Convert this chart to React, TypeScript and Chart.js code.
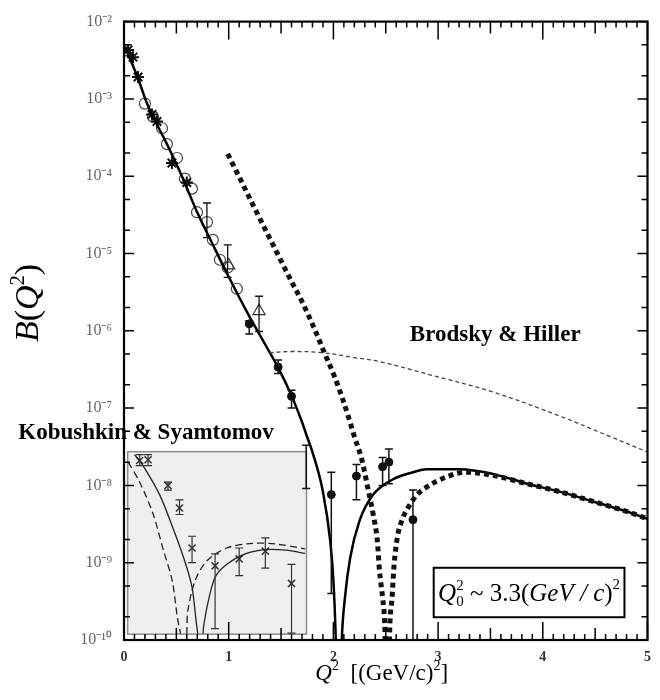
import React, { useEffect, useRef } from "react";
import { Chart, registerables } from "chart.js";

Chart.register(...registerables);

// ---------- axis ticks ----------
const X_TICKS = [0, 1, 2, 3, 4, 5];
const Y_EXPONENTS = [-2, -3, -4, -5, -6, -7, -8, -9, -10];

// ---------- main theory curve (solid) ----------
const solidQ2 = [0.01, 0.13, 0.22, 0.41, 0.55, 0.70, 0.85, 1.0, 1.2, 1.35, 1.47, 1.6, 1.7, 1.75, 1.8, 1.9, 1.97, 2.0, 2.02, 2.04, 2.06, 2.08, 2.11, 2.16, 2.25, 2.38, 2.57, 2.76, 2.89, 3.21, 3.52, 3.85, 4.16, 4.48, 4.8, 5.0];
const solidB = [4.68e-3, 1.91e-3, 8.7e-4, 2.6e-4, 1.02e-4, 3.39e-5, 1.29e-5, 5.0e-6, 1.51e-6, 6.6e-7, 3.39e-7, 1.45e-7, 6.6e-8, 4.2e-8, 2.7e-8, 8.3e-9, 1.9e-9, 5.9e-10, 1.35e-10, 1e-11, 1e-11, 1e-10, 3.5e-10, 1.15e-9, 3.5e-9, 7.6e-9, 1.2e-8, 1.48e-8, 1.62e-8, 1.62e-8, 1.41e-8, 1.05e-8, 8.3e-9, 6.2e-9, 4.6e-9, 3.7e-9];

// ---------- thick square-dotted curve ----------
const squaresQ2 = [0.99, 1.1, 1.25, 1.44, 1.58, 1.71, 1.84, 1.9, 2.01, 2.09, 2.16, 2.2, 2.27, 2.33, 2.38, 2.42, 2.44, 2.47, 2.49, 2.505, 2.525, 2.54, 2.56, 2.58, 2.61, 2.66, 2.73, 2.8, 2.89, 3.08, 3.27, 3.52, 3.85, 4.16, 4.48, 4.8, 5.0];
const squaresB = [1.95e-4, 9.8e-5, 3.8e-5, 1.17e-5, 4.9e-6, 2.24e-6, 9.1e-7, 5.75e-7, 2.57e-7, 1.29e-7, 6.5e-8, 4.3e-8, 2.19e-8, 9.1e-9, 4.2e-9, 1.9e-9, 7.9e-10, 3.5e-10, 1.66e-10, 3.2e-11, 3.2e-11, 1.66e-10, 3.5e-10, 9.5e-10, 2.1e-9, 3.7e-9, 5.6e-9, 7.6e-9, 9.5e-9, 1.29e-8, 1.48e-8, 1.35e-8, 1.05e-8, 8.3e-9, 6.2e-9, 4.6e-9, 3.7e-9];

// ---------- Brodsky & Hiller (thin dashed) ----------
const brodskyQ2 = [1.39, 1.6, 1.9, 2.2, 2.44, 2.9, 3.52, 4.16, 4.64, 5.0];
const brodskyB = [5.2e-7, 5.4e-7, 5.2e-7, 4.5e-7, 4.0e-7, 2.75e-7, 1.62e-7, 7.9e-8, 4.3e-8, 2.7e-8];

// ---------- inset curves (Kobushkin & Syamtomov) ----------
const insetDashQ2 = [0.04, 0.15, 0.28, 0.37, 0.46, 0.51, 0.54, 0.57, 0.6, 0.61, 0.68, 0.79, 0.98, 1.23, 1.46, 1.73];
const insetDashB = [2.0e-8, 1.1e-8, 4.2e-9, 1.55e-9, 5.9e-10, 1.95e-10, 1.2e-10, null, 1.2e-10, 2.4e-10, 5.9e-10, 1.05e-9, 1.55e-9, 1.78e-9, 1.74e-9, 1.51e-9];
const insetSolidQ2 = [0.1, 0.18, 0.34, 0.47, 0.58, 0.65, 0.69, 0.705, 0.73, 0.755, 0.76, 0.8, 0.87, 0.98, 1.17, 1.36, 1.55, 1.73];
const insetSolidB = [2.5e-8, 1.82e-8, 7.6e-9, 2.75e-9, 1.05e-9, 4.8e-10, 1.7e-10, 1.2e-10, null, 1.2e-10, 1.48e-10, 2.95e-10, 6.5e-10, 9.5e-10, 1.32e-9, 1.48e-9, 1.45e-9, 1.32e-9];

// ---------- data points ----------
const starQ2 = [0.038, 0.086, 0.134, 0.267, 0.315, 0.458, 0.6];
const starB = [4.3e-3, 3.47e-3, 1.92e-3, 6.3e-4, 5.1e-4, 1.48e-4, 8.3e-5];
const starLo = [3.6e-3, null, null, null, null, null, null];
const starHi = [5.0e-3, null, null, null, null, null, null];

const circleQ2 = [0.2, 0.277, 0.363, 0.41, 0.506, 0.582, 0.649, 0.697, 0.792, 0.849, 0.916, 0.99, 1.078];
const circleB = [8.7e-4, 5.9e-4, 4.17e-4, 2.6e-4, 1.72e-4, 9.3e-5, 6.9e-5, 3.42e-5, 2.55e-5, 1.5e-5, 8.3e-6, 6.6e-6, 3.5e-6];
const circleLo = [null, null, null, null, null, null, null, null, 1.6e-5, null, null, 4.9e-6, null];
const circleHi = [null, null, null, null, null, null, null, null, 4.5e-5, null, null, 1.29e-5, null];

const triangleQ2 = [1.0, 1.29];
const triangleB = [7.0e-6, 1.8e-6];
const triangleLo = [null, 9.8e-7];
const triangleHi = [null, 2.8e-6];

const filledQ2 = [1.196, 1.472, 1.6, 1.98, 2.22, 2.47, 2.53, 2.76];
const filledB = [1.23e-6, 3.4e-7, 1.42e-7, 7.6e-9, 1.32e-8, 1.74e-8, 2.0e-8, 3.6e-9];
const filledLo = [9.1e-7, 2.8e-7, 1.0e-7, 4.0e-10, 6.5e-9, 1.0e-8, 1.05e-8, 1e-10];
const filledHi = [1.35e-6, 4.2e-7, 1.7e-7, 1.48e-8, 1.86e-8, 2.3e-8, 2.95e-8, 8.7e-9];

const barOnlyQ2 = [1.74];
const barOnlyB = [1.7e-8];
const barOnlyLo = [9.1e-9];
const barOnlyHi = [3.3e-8];

const insetPtsQ2 = [0.15, 0.23, 0.42, 0.53, 0.65, 0.87, 1.1, 1.35, 1.6];
const insetPtsB = [2.1e-8, 2.15e-8, 1.0e-8, 5.1e-9, 1.55e-9, 9.1e-10, 1.12e-9, 1.41e-9, 5.4e-10];
const insetPtsLo = [1.8e-8, 1.8e-8, 8.7e-9, 4.2e-9, 1.0e-9, 1.4e-10, 6.8e-10, 8.5e-10, 1.23e-10];
const insetPtsHi = [2.5e-8, 2.5e-8, 1.1e-8, 6.5e-9, 2.2e-9, 1.3e-9, 1.55e-9, 2.1e-9, 9.5e-10];

// ---------- annotation anchors (data units) ----------
const INSET_Q2 = [0.035, 1.743];
const INSET_B = [1.19e-10, 2.73e-8];
const NOTE_Q2 = [2.958, 4.78];
const NOTE_B = [1.97e-10, 8.6e-10];
const BRODSKY_LABEL = { q2: 2.73, b: 8.9e-7, text: "Brodsky & Hiller" };
const KOBUSHKIN_LABEL = { q2: -1.01, b: 4.7e-8, text: "Kobushkin & Syamtomov" };

const SERIF = "'Liberation Serif', 'Times New Roman', serif";
const SUP: Record<string, string> = { "-": "\u207B", "0": "\u2070", "1": "\u00B9", "2": "\u00B2", "3": "\u00B3", "4": "\u2074", "5": "\u2075", "6": "\u2076", "7": "\u2077", "8": "\u2078", "9": "\u2079" };

const pts = (xs: number[], ys: (number | null)[]) => xs.map((x, i) => ({ x, y: ys[i] }));

type Part = { t: string; font: string; dy?: number; noAdvance?: boolean };

function partsWidth(ctx: CanvasRenderingContext2D, parts: Part[]) {
  let w = 0;
  for (const p of parts) {
    ctx.font = p.font;
    if (!p.noAdvance) w += ctx.measureText(p.t).width;
  }
  return w;
}
function drawParts(ctx: CanvasRenderingContext2D, x: number, y: number, parts: Part[]) {
  let cx = x;
  for (const p of parts) {
    ctx.font = p.font;
    ctx.fillText(p.t, cx, y + (p.dy || 0));
    if (!p.noAdvance) cx += ctx.measureText(p.t).width;
  }
}

const decorPlugin = {
  id: "decor",
  beforeDatasetsDraw(chart: any) {
    const { ctx, scales } = chart;
    const xs = scales.x, ys = scales.y;
    const l = xs.getPixelForValue(INSET_Q2[0]);
    const r = xs.getPixelForValue(INSET_Q2[1]);
    const t = ys.getPixelForValue(INSET_B[1]);
    const b = ys.getPixelForValue(INSET_B[0]);
    ctx.save();
    ctx.fillStyle = "#efefef";
    ctx.fillRect(l, t, r - l, b - t);
    ctx.strokeStyle = "#8c8c8c";
    ctx.lineWidth = 1.5;
    ctx.strokeRect(l, t, r - l, b - t);
    ctx.restore();
  },
  afterDatasetsDraw(chart: any) {
    const { ctx, scales, chartArea } = chart;
    const xs = scales.x, ys = scales.y;
    ctx.save();
    ctx.beginPath();
    ctx.rect(chartArea.left, chartArea.top, chartArea.right - chartArea.left, chartArea.bottom - chartArea.top);
    ctx.clip();
    chart.data.datasets.forEach((ds: any, i: number) => {
      if (!ds.errLo) return;
      const meta = chart.getDatasetMeta(i);
      ctx.strokeStyle = ds.errColor || "#111";
      ctx.lineWidth = ds.errWidth || 1.3;
      meta.data.forEach((el: any, j: number) => {
        const lo = ds.errLo[j], hi = ds.errHi[j];
        if (lo == null || hi == null) return;
        const px = el.x;
        const y1 = ys.getPixelForValue(hi);
        const y2 = ys.getPixelForValue(lo);
        const cap = 4;
        ctx.beginPath();
        ctx.moveTo(px, y1); ctx.lineTo(px, y2);
        ctx.moveTo(px - cap, y1); ctx.lineTo(px + cap, y1);
        ctx.moveTo(px - cap, y2); ctx.lineTo(px + cap, y2);
        ctx.stroke();
      });
    });
    ctx.restore();

    const nl = xs.getPixelForValue(NOTE_Q2[0]);
    const nr = xs.getPixelForValue(NOTE_Q2[1]);
    const nt = ys.getPixelForValue(NOTE_B[1]);
    const nb = ys.getPixelForValue(NOTE_B[0]);
    ctx.save();
    ctx.fillStyle = "#fff";
    ctx.fillRect(nl, nt, nr - nl, nb - nt);
    ctx.strokeStyle = "#000";
    ctx.lineWidth = 2;
    ctx.strokeRect(nl, nt, nr - nl, nb - nt);
    ctx.fillStyle = "#000";
    ctx.textBaseline = "alphabetic";
    const big = 25, small = 15;
    const parts: Part[] = [
      { t: "Q", font: `italic ${big}px ${SERIF}` },
      { t: "2", font: `${small}px ${SERIF}`, dy: -11, noAdvance: true },
      { t: "0", font: `${small}px ${SERIF}`, dy: 5 },
      { t: " ~ 3.3(", font: `${big}px ${SERIF}` },
      { t: "GeV / c", font: `italic ${big}px ${SERIF}` },
      { t: ")", font: `${big}px ${SERIF}` },
      { t: "2", font: `${small}px ${SERIF}`, dy: -12 },
    ];
    const w = partsWidth(ctx, parts);
    drawParts(ctx, (nl + nr) / 2 - w / 2, (nt + nb) / 2 + 8, parts);
    ctx.restore();

    const { left, right, top, bottom } = chartArea;
    ctx.save();
    ctx.strokeStyle = "#000";
    ctx.lineWidth = 1.5;
    ctx.beginPath();
    for (let i = 0; i <= 50; i++) {
      const px = xs.getPixelForValue(i / 10);
      const len = i % 10 === 0 ? 18 : i % 5 === 0 ? 12 : 6;
      ctx.moveTo(px, bottom); ctx.lineTo(px, bottom - len);
      ctx.moveTo(px, top); ctx.lineTo(px, top + len);
    }
    for (const e of Y_EXPONENTS) {
      for (const m of [1, 2, 5]) {
        const v = m * Math.pow(10, e);
        if (v > 1.0001e-2) continue;
        const py = ys.getPixelForValue(v);
        const len = m === 1 ? 10 : 6;
        ctx.moveTo(left, py); ctx.lineTo(left + len, py);
        ctx.moveTo(right, py); ctx.lineTo(right - len, py);
      }
    }
    ctx.stroke();
    ctx.lineWidth = 2.2;
    ctx.strokeRect(left, top, right - left, bottom - top);
    ctx.restore();
  },
  afterDraw(chart: any) {
    const { ctx, scales, chartArea } = chart;
    const xs = scales.x, ys = scales.y;
    ctx.save();
    ctx.fillStyle = "#000";
    ctx.textBaseline = "middle";
    ctx.textAlign = "left";
    ctx.font = `bold 23px ${SERIF}`;
    ctx.fillText(BRODSKY_LABEL.text, xs.getPixelForValue(BRODSKY_LABEL.q2), ys.getPixelForValue(BRODSKY_LABEL.b));
    ctx.fillText(KOBUSHKIN_LABEL.text, xs.getPixelForValue(KOBUSHKIN_LABEL.q2), ys.getPixelForValue(KOBUSHKIN_LABEL.b));

    ctx.textBaseline = "alphabetic";
    const xParts: Part[] = [
      { t: "Q", font: `italic 23px ${SERIF}` },
      { t: "2", font: `14px ${SERIF}`, dy: -10 },
      { t: "  [(GeV/c)", font: `23px ${SERIF}` },
      { t: "2", font: `14px ${SERIF}`, dy: -10 },
      { t: "]", font: `23px ${SERIF}` },
    ];
    const xw = partsWidth(ctx, xParts);
    const cx = (chartArea.left + chartArea.right) / 2;
    drawParts(ctx, cx - xw / 2 - 4, 680, xParts);

    const yParts: Part[] = [
      { t: "B", font: `italic 34px ${SERIF}` },
      { t: "(", font: `34px ${SERIF}` },
      { t: "Q", font: `italic 34px ${SERIF}` },
      { t: "2", font: `20px ${SERIF}`, dy: -14 },
      { t: ")", font: `34px ${SERIF}` },
    ];
    const yw = partsWidth(ctx, yParts);
    ctx.translate(38, 303);
    ctx.rotate(-Math.PI / 2);
    drawParts(ctx, -yw / 2, 0, yParts);
    ctx.restore();
  },
};

function supLabel(v: number) {
  const e = Math.round(Math.log10(v));
  return "10" + String(e).split("").map((c) => SUP[c] || c).join("");
}

export default function App() {
  const ref = useRef<HTMLCanvasElement>(null);
  useEffect(() => {
    const canvas = ref.current;
    if (!canvas) return;
    const lineBase = { showLine: true, pointRadius: 0, pointHoverRadius: 0, fill: false, clip: 0, spanGaps: false };
    const chart = new Chart(canvas, {
      type: "line",
      data: {
        datasets: [
          { ...lineBase, label: "Kobushkin dashed", data: pts(insetDashQ2, insetDashB), borderColor: "#222", borderWidth: 1.3, borderDash: [7, 4], tension: 0.3 },
          { ...lineBase, label: "Kobushkin solid", data: pts(insetSolidQ2, insetSolidB), borderColor: "#222", borderWidth: 1.3, tension: 0.3 },
          { ...lineBase, label: "Brodsky & Hiller", data: pts(brodskyQ2, brodskyB), borderColor: "#444", borderWidth: 1.3, borderDash: [4, 3], tension: 0.4 },
          { ...lineBase, label: "squares", data: pts(squaresQ2, squaresB), borderColor: "#111", borderWidth: 5, borderDash: [5, 4], borderCapStyle: "butt", cubicInterpolationMode: "monotone" },
          { ...lineBase, label: "theory", data: pts(solidQ2, solidB), borderColor: "#000", borderWidth: 2.5, cubicInterpolationMode: "monotone" },
          { label: "stars", data: pts(starQ2, starB), showLine: false, pointStyle: "star", pointRadius: 6, pointHoverRadius: 6, pointBorderWidth: 2, pointBorderColor: "#111", pointBackgroundColor: "#111", errLo: starLo, errHi: starHi },
          { label: "circles", data: pts(circleQ2, circleB), showLine: false, pointStyle: "circle", pointRadius: 5.5, pointHoverRadius: 5.5, pointBorderWidth: 1.2, pointBorderColor: "#444", pointBackgroundColor: "rgba(255,255,255,0)", errLo: circleLo, errHi: circleHi },
          { label: "triangles", data: pts(triangleQ2, triangleB), showLine: false, pointStyle: "triangle", pointRadius: 7, pointHoverRadius: 7, pointBorderWidth: 1.2, pointBorderColor: "#333", pointBackgroundColor: "rgba(255,255,255,0)", errLo: triangleLo, errHi: triangleHi },
          { label: "filled", data: pts(filledQ2, filledB), showLine: false, pointStyle: "circle", pointRadius: 4, pointHoverRadius: 4, pointBorderWidth: 1, pointBorderColor: "#111", pointBackgroundColor: "#111", errLo: filledLo, errHi: filledHi, errWidth: 1.5 },
          { label: "bar", data: pts(barOnlyQ2, barOnlyB), showLine: false, pointRadius: 0, pointHoverRadius: 0, errLo: barOnlyLo, errHi: barOnlyHi, errWidth: 1.5 },
          { label: "inset points", data: pts(insetPtsQ2, insetPtsB), showLine: false, pointStyle: "crossRot", pointRadius: 5, pointHoverRadius: 5, pointBorderWidth: 1.5, pointBorderColor: "#333", errLo: insetPtsLo, errHi: insetPtsHi, errColor: "#333", errWidth: 1.2 },
        ] as any,
      },
      options: {
        responsive: false,
        animation: false,
        devicePixelRatio: 1,
        events: [],
        layout: { padding: { top: 14, right: 12, left: 0, bottom: 0 } },
        plugins: { legend: { display: false }, tooltip: { enabled: false }, title: { display: false } },
        scales: {
          x: {
            type: "linear",
            min: 0,
            max: 5,
            grid: { display: false, drawTicks: false },
            border: { display: false },
            afterBuildTicks: (s: any) => { s.ticks = X_TICKS.map((v) => ({ value: v })); },
            ticks: { autoSkip: false, maxRotation: 0, padding: 9, color: "#333", font: { family: SERIF, size: 14, weight: "bold" } },
            afterFit: (s: any) => { s.height = 60; },
          },
          y: {
            type: "logarithmic",
            min: 1e-10,
            max: 1e-2,
            grid: { display: false, drawTicks: false },
            border: { display: false },
            afterBuildTicks: (s: any) => { s.ticks = Y_EXPONENTS.map((e) => ({ value: Math.pow(10, e) })); },
            ticks: { autoSkip: false, padding: 12, color: "#666", font: { family: SERIF, size: 16 }, callback: (v: any) => supLabel(Number(v)) },
            afterFit: (s: any) => { s.width = 124; },
          },
        },
      } as any,
      plugins: [decorPlugin],
    });
    return () => chart.destroy();
  }, []);
  return (
    <div style={{ position: "fixed", left: 0, top: 0, width: 660, height: 700, background: "#fff" }}>
      <canvas ref={ref} width={660} height={700} style={{ display: "block", width: 660, height: 700 }} />
    </div>
  );
}
